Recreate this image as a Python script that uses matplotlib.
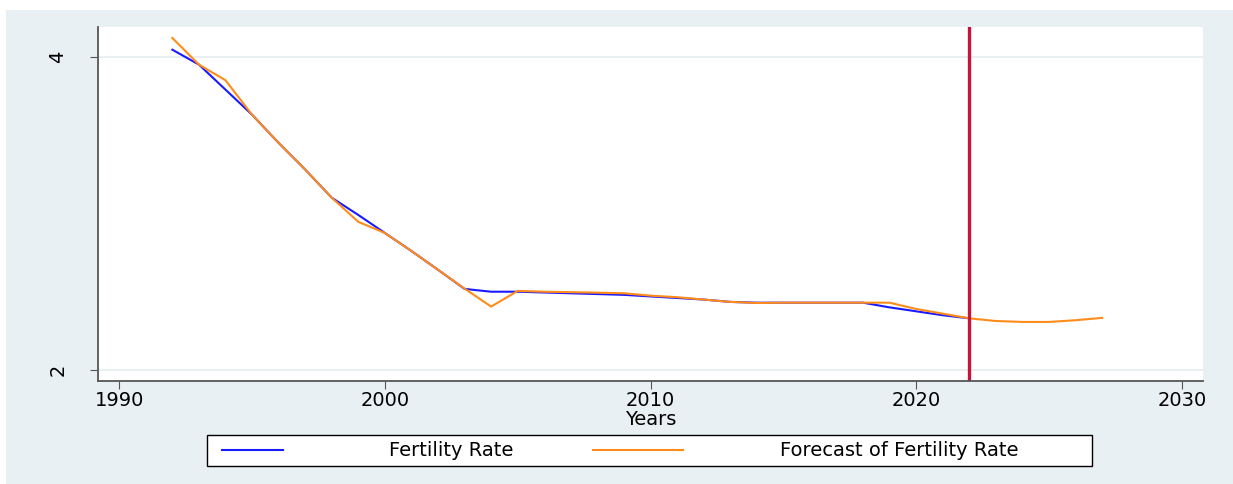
import numpy as np
import matplotlib
matplotlib.use("Agg")
import matplotlib.pyplot as plt
from matplotlib.patches import Rectangle
from matplotlib.lines import Line2D

# Fertility rate observed values (1992-2022)
years = list(range(1992, 2023))
fertility = [4.045, 3.95, 3.79, 3.63, 3.45, 3.28, 3.10, 2.99, 2.875, 2.76, 2.64,
             2.518, 2.50, 2.50, 2.495, 2.49, 2.485, 2.48, 2.47, 2.46, 2.45,
             2.435, 2.43, 2.43, 2.43, 2.43, 2.43, 2.40, 2.375, 2.35, 2.33]

# Forecast values (1992-2027)
f_years = list(range(1992, 2028))
forecast = [4.12, 3.95, 3.85, 3.63, 3.45, 3.28, 3.10, 2.946, 2.875, 2.76, 2.64,
            2.52, 2.405, 2.505, 2.50, 2.497, 2.494, 2.49, 2.475, 2.465, 2.45,
            2.435, 2.428, 2.43, 2.43, 2.43, 2.43, 2.43, 2.39, 2.36, 2.33,
            2.313, 2.307, 2.307, 2.318, 2.333]

cutoff_year = 2022
labels = ["Fertility Rate", "Forecast of Fertility Rate"]
colors = ["#1a1aff", "#ff8c1a"]

plt.rcParams['font.family'] = ['DejaVu Sans']

W, H = 1233, 484
bg = "#e8f0f3"
fig = plt.figure(figsize=(W / 100, H / 100), dpi=100)
fig.patch.set_facecolor("white")
# light stata-like outer region
fig.patches.append(Rectangle((6 / W, 0), 1 - 6 / W, 1 - 10 / H,
                             transform=fig.transFigure, facecolor=bg,
                             edgecolor="none", zorder=-10))

ax = fig.add_axes([98 / W, 1 - 381 / H, 1105 / W, 354 / H])
ax.set_facecolor("white")

ax.plot(years, fertility, color=colors[0], lw=1.5)
ax.plot(f_years, forecast, color=colors[1], lw=1.5)
ax.axvline(cutoff_year, color="#c4143c", lw=2.4)

ax.set_xlim(1989.2, 2030.8)
ax.set_ylim(1.93, 4.19)
ax.set_xticks([1990, 2000, 2010, 2020, 2030])
ax.set_yticks([2, 4])
ax.grid(axis="y", color="#e6eef0", lw=1.2)
ax.set_axisbelow(True)

for s in ["top", "right"]:
    ax.spines[s].set_visible(False)
for s in ["left", "bottom"]:
    ax.spines[s].set_color("#555555")
    ax.spines[s].set_linewidth(1.3)

ax.tick_params(axis="both", direction="out", length=6, color="#555555",
               labelsize=14, pad=1)
for lab in ax.get_yticklabels():
    lab.set_rotation(90)
    lab.set_va("center")
ax.tick_params(axis="y", pad=16)

ax.set_xlabel("Years", fontsize=14, labelpad=0)

# legend box below the plot, drawn in figure pixels like the stata legend
fig.patches.append(Rectangle((207 / W, 1 - 466 / H), 885 / W, 31 / H,
                             transform=fig.transFigure, facecolor="white",
                             edgecolor="black", lw=1.0))
key_x = [(222, 283), (593, 683)]
text_x = [451, 899]
for (x0, x1), tx, lab, c in zip(key_x, text_x, labels, colors):
    fig.lines.append(Line2D([x0 / W, x1 / W], [1 - 450 / H, 1 - 450 / H],
                            transform=fig.transFigure, color=c, lw=1.5))
    fig.text(tx / W, 1 - 450 / H, lab, fontsize=14, ha="center", va="center")

fig.savefig("out.png", dpi=100, facecolor=fig.get_facecolor())
